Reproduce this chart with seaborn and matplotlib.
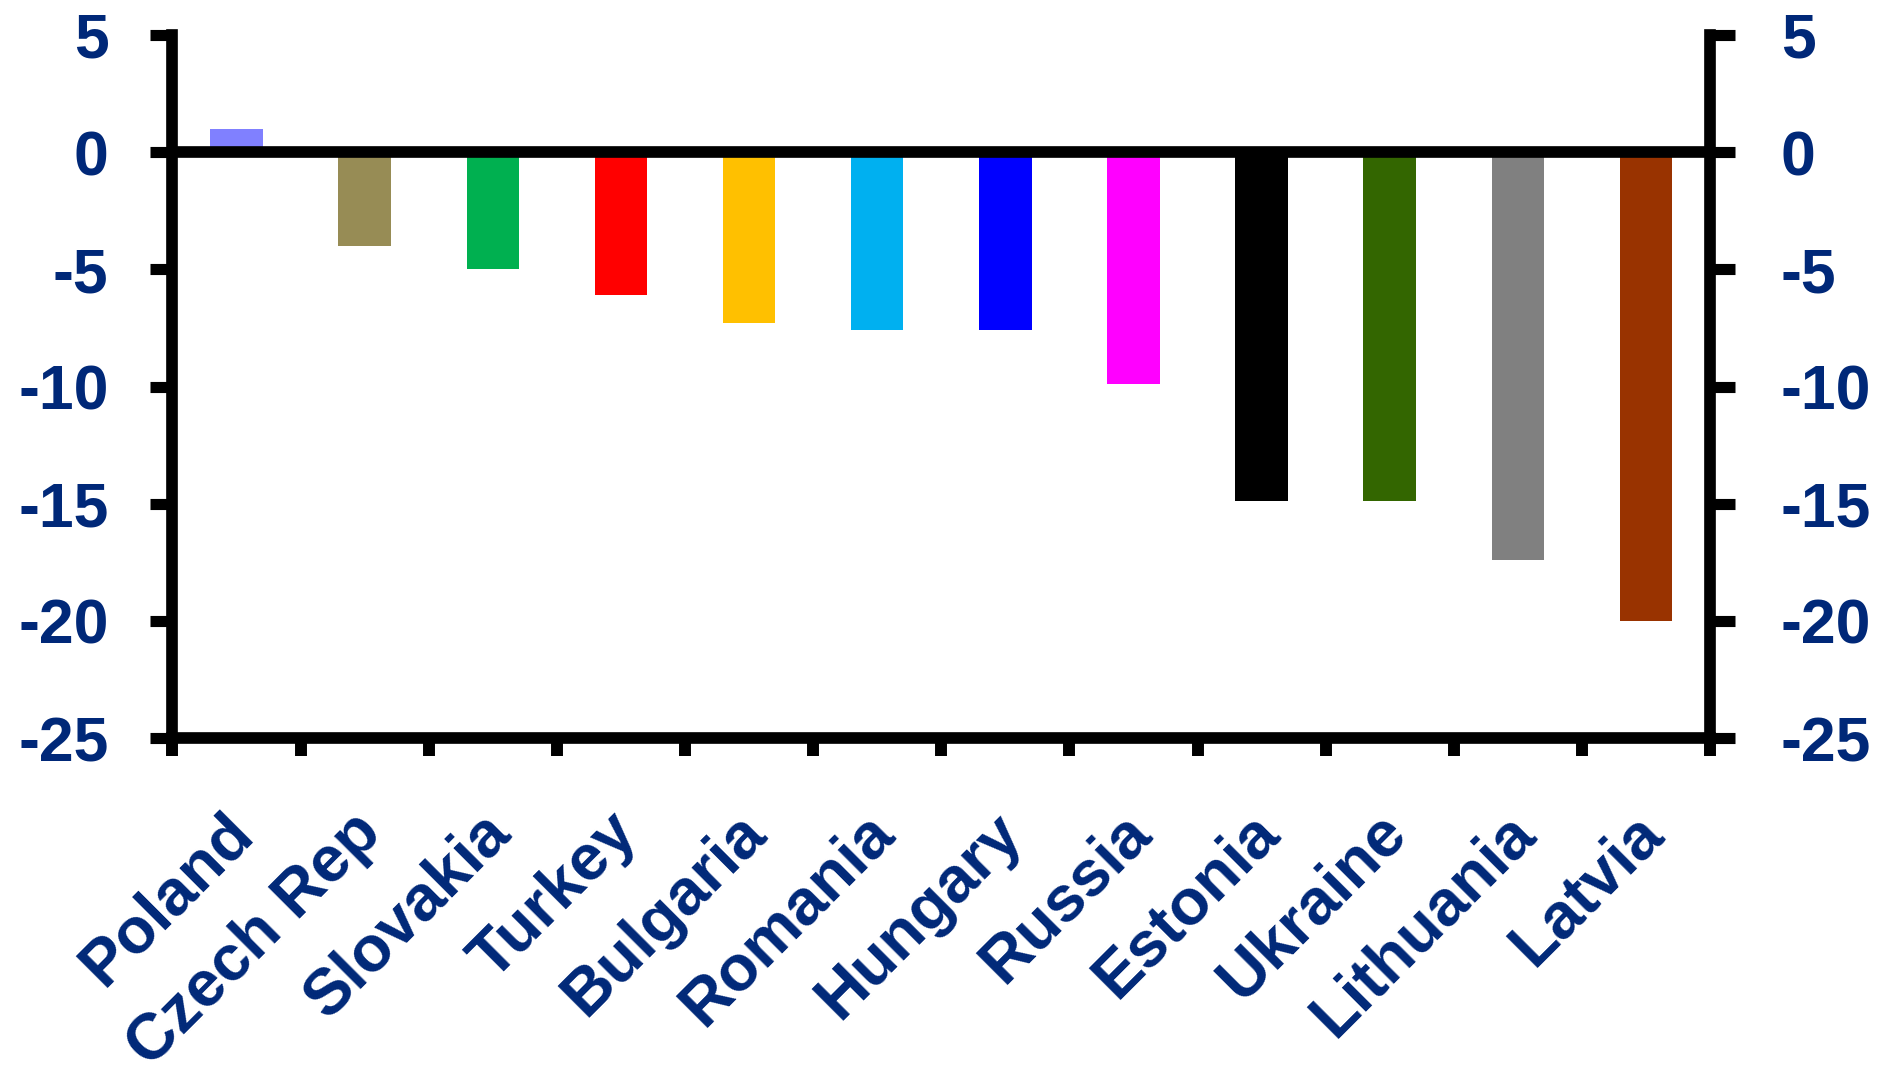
import numpy as np
import pandas as pd
import matplotlib
matplotlib.use("Agg")
import matplotlib.pyplot as plt
import matplotlib.transforms as mtransforms
import seaborn as sns

# Chart data
countries = ["Poland", "Czech Rep", "Slovakia", "Turkey", "Bulgaria", "Romania",
             "Hungary", "Russia", "Estonia", "Ukraine", "Lithuania", "Latvia"]
values = [1.0, -4.0, -5.0, -6.1, -7.3, -7.6, -7.6, -9.9, -14.9, -14.9, -17.4, -20.0]
bar_colors = ["#8080FF", "#978C55", "#00B050", "#FF0000", "#FFC000", "#00B0F0",
              "#0000FF", "#FF00FF", "#000000", "#336600", "#808080", "#993300"]
y_ticks = [5, 0, -5, -10, -15, -20, -25]

NAVY = "#002878"
LW = 8.4

sns.set_theme(style="white")
plt.rcParams["font.family"] = ["Liberation Sans", "DejaVu Sans"]
plt.rcParams["font.weight"] = "bold"
plt.rcParams["axes.unicode_minus"] = False

W, H = 1881, 1066
fig = plt.figure(figsize=(W / 100, H / 100), dpi=100)
ax = fig.add_axes([172.5 / W, 1 - 738 / H, (1710 - 172.5) / W, (738 - 35) / H])

df = pd.DataFrame({"country": countries, "value": values})
sns.barplot(data=df, x="country", y="value", hue="country", palette=bar_colors,
            width=0.41, saturation=1, errorbar=None, legend=False,
            linewidth=0, ax=ax, zorder=2)

ax.set_xlim(-0.5, len(countries) - 0.5)
ax.set_ylim(-25, 5)
ax.axhline(0, color="black", lw=LW, zorder=3)

# spines
for side in ["top", "right"]:
    ax.spines[side].set_visible(False)
for side in ["left", "bottom"]:
    ax.spines[side].set_linewidth(LW)
    ax.spines[side].set_color("black")
    ax.spines[side].set_zorder(4)

# x axis: tick marks between categories, labels at category centres
n = len(countries)
ax.set_xticks(np.arange(n + 1) - 0.5, labels=[""] * (n + 1))
ax.set_xticks(np.arange(n), labels=countries, minor=True)
ax.tick_params(axis="x", which="major", bottom=True, direction="out",
               length=13, width=8.6, color="black")
ax.tick_params(axis="x", which="minor", bottom=True, length=0, pad=46,
               labelsize=46.5, labelcolor=NAVY)
shift = mtransforms.ScaledTranslation(-14 / 100, 0, fig.dpi_scale_trans)
for lab in ax.get_xticklabels(minor=True):
    lab.set_rotation(45)
    lab.set_ha("right")
    lab.set_va("top")
    lab.set_rotation_mode("anchor")
    lab.set_fontweight("bold")
    lab.set_transform(lab.get_transform() + shift)

# left y axis
ax.set_yticks(y_ticks, labels=[str(t) for t in y_ticks])
ax.tick_params(axis="y", which="major", left=True, direction="out",
               length=16, width=8, color="black", pad=30,
               labelsize=45, labelcolor=NAVY)
for lab in ax.get_yticklabels():
    lab.set_fontweight("bold")
ax.set_xlabel("")
ax.set_ylabel("")

# right y axis mirrors the left one
ax2 = ax.twinx()
ax2.set_ylim(-25, 5)
ax2.set_yticks(y_ticks, labels=[str(t) for t in y_ticks])
ax2.tick_params(axis="y", which="major", right=True, direction="out",
                length=18, width=8, color="black", pad=33,
                labelsize=45, labelcolor=NAVY)
for lab in ax2.get_yticklabels():
    lab.set_fontweight("bold")
for side in ["top", "left", "bottom"]:
    ax2.spines[side].set_visible(False)
ax2.spines["right"].set_linewidth(LW)
ax2.spines["right"].set_color("black")
ax2.set_ylabel("")

fig.savefig("out.png", dpi=100, facecolor="white")
